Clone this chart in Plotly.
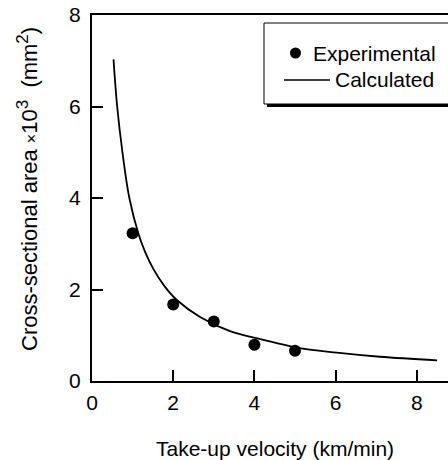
import plotly.graph_objects as go

# Experimental measurements
exp_velocity = [1, 2, 3, 4, 5]                  # km/min
exp_area = [3.23, 1.67, 1.30, 0.79, 0.66]       # x10^3 mm^2

# Calculated curve
calc_velocity = [0.53, 0.62, 0.75, 0.92, 1.14, 1.30, 1.51, 1.78, 2.09, 2.66, 3.40, 4.22, 5.04, 6.03, 7.09, 8.50]
calc_area = [7.03, 6.00, 5.00, 4.00, 3.23, 2.84, 2.45, 2.08, 1.77, 1.40, 1.09, 0.90, 0.73, 0.62, 0.53, 0.45]

x_ticks = [0, 2, 4, 6, 8]
y_ticks = [0, 2, 4, 6, 8]

FONT = "Liberation Sans, Arial, Helvetica, sans-serif"
W, H = 448, 460
L, R, T, B = 92, 0, 15, 79
PW, PH = W - L - R, H - T - B


def px(x):
    return (x - L) / PW


def py(y):
    return (H - B - y) / PH


fig = go.Figure()
fig.add_trace(go.Scatter(
    x=calc_velocity, y=calc_area, mode="lines",
    line=dict(color="black", width=1.8, shape="spline", smoothing=1.0),
    showlegend=False, cliponaxis=False,
))
fig.add_trace(go.Scatter(
    x=exp_velocity, y=exp_area, mode="markers",
    marker=dict(color="black", size=12, line=dict(width=0)),
    showlegend=False, cliponaxis=False,
))

axis_common = dict(
    showgrid=False, zeroline=False, showline=True, linecolor="black", linewidth=2,
    ticks="inside", ticklen=11, tickwidth=2, tickcolor="black",
    tickfont=dict(family=FONT, size=21, color="black"),
)
fig.update_xaxes(range=[0, PW / 40.6], tickvals=x_ticks, mirror=True, ticklabelstandoff=2, **axis_common)
fig.update_yaxes(range=[0, 8], tickvals=y_ticks, mirror=False, ticklabelstandoff=5, **axis_common)

# Legend box with drop shadow
shapes = [
    dict(type="rect", xref="paper", yref="paper", x0=px(267), x1=px(475), y0=py(107), y1=py(26),
         fillcolor="black", line=dict(width=0)),
    dict(type="rect", xref="paper", yref="paper", x0=px(264), x1=px(472), y0=py(104), y1=py(23),
         fillcolor="white", line=dict(color="black", width=1)),
    dict(type="circle", xref="paper", yref="paper", x0=px(290), x1=px(301), y0=py(58.5), y1=py(47.5),
         fillcolor="black", line=dict(width=0)),
    dict(type="line", xref="paper", yref="paper", x0=px(284), x1=px(330), y0=py(80), y1=py(80),
         line=dict(color="black", width=1.5)),
]

annotations = [
    dict(text="Experimental", xref="paper", yref="paper", x=px(311), y=py(53),
         xanchor="left", yanchor="middle", showarrow=False,
         font=dict(family=FONT, size=21, color="black")),
    dict(text="Calculated", xref="paper", yref="paper", x=px(333), y=py(80),
         xanchor="left", yanchor="middle", showarrow=False,
         font=dict(family=FONT, size=21, color="black")),
    dict(text="Take-up velocity (km/min)", xref="paper", yref="paper", x=px(275), y=py(448),
         xanchor="center", yanchor="middle", showarrow=False,
         font=dict(family=FONT, size=21, color="black")),
    dict(text=("Cross-sectional area <span style='font-size:16px'>×</span>10"
               "<sup><span style='font-size:17px'>3</span></sup>&nbsp; (mm"
               "<sup><span style='font-size:17px'>2</span></sup>)"),
         xref="paper", yref="paper", x=px(27), y=py(189), textangle=-90,
         xanchor="center", yanchor="middle", showarrow=False,
         font=dict(family=FONT, size=22, color="black")),
]

fig.update_layout(
    width=W, height=H, margin=dict(l=L, r=R, t=T, b=B),
    paper_bgcolor="white", plot_bgcolor="white",
    shapes=shapes, annotations=annotations, showlegend=False,
)

fig.write_html("out.html")
